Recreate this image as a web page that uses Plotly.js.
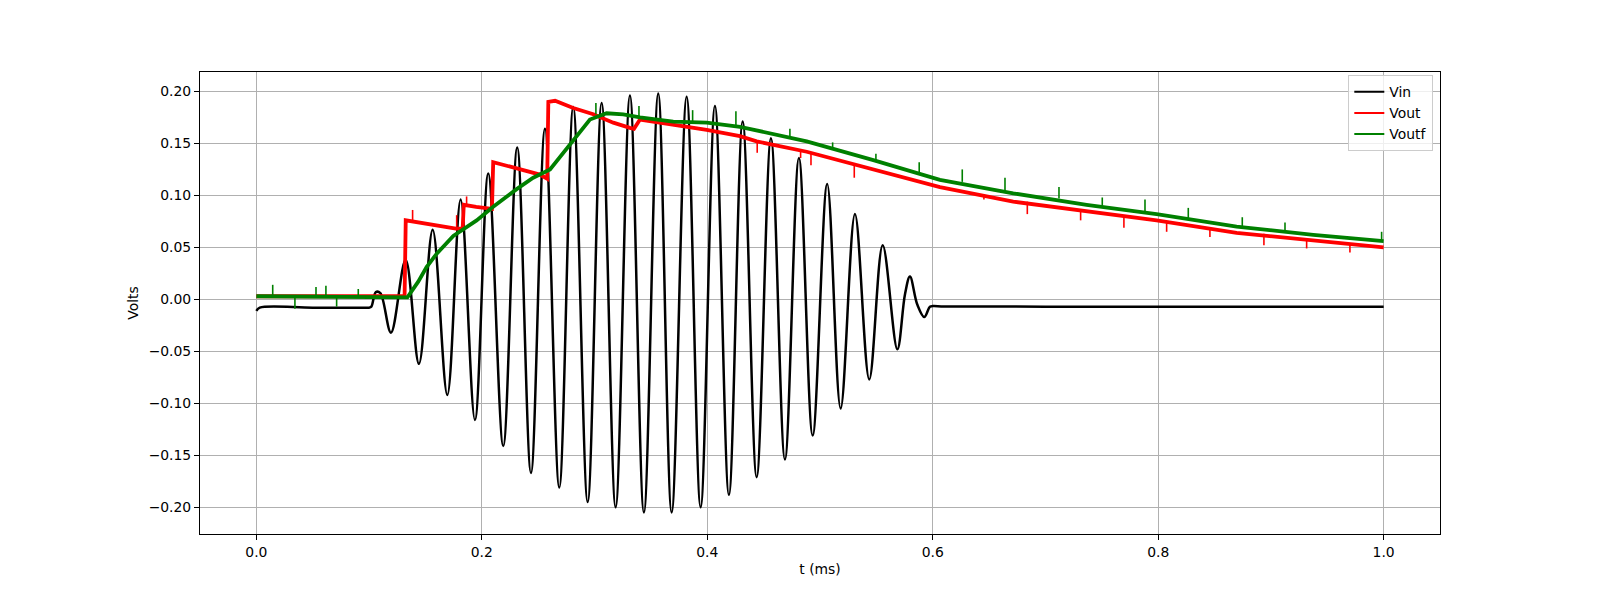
<!DOCTYPE html>
<html>
<head>
<meta charset="utf-8">
<script src="https://cdn.plot.ly/plotly-3.0.1.min.js"></script>
<style>html,body{margin:0;padding:0;background:#fff;}#chart{width:1600px;height:600px;}</style>
</head>
<body>
<div id="chart"></div>
<script>
// ---- Vin (tone burst), extrema and flat levels ----
var vinT = [0.000, 0.003, 0.050, 0.096, 0.100, 0.102, 0.106, 0.110, 0.1194, 0.1324, 0.1442, 0.1564, 0.1694, 0.1812, 0.1939, 0.2057, 0.2190, 0.2314, 0.2436, 0.2560, 0.2687, 0.2811, 0.2939, 0.3063, 0.3187, 0.3314, 0.3438, 0.3565, 0.3684, 0.3817, 0.3941, 0.4068, 0.4192, 0.4314, 0.4438, 0.4565, 0.4689, 0.4813, 0.4935, 0.5064, 0.5183, 0.5310, 0.5437, 0.5556, 0.5686, 0.5754, 0.5798, 0.5863, 0.5925, 0.5975, 0.6000, 0.6100, 0.7000, 0.8000, 0.9000, 0.9900, 1.0000];
var vinV = [-0.011, -0.008, -0.008, -0.008, -0.008, -0.007, 0.007, 0.006, -0.032, 0.038, -0.062, 0.067, -0.092, 0.096, -0.116, 0.121, -0.141, 0.146, -0.167, 0.164, -0.181, 0.185, -0.195, 0.189, -0.200, 0.196, -0.205, 0.198, -0.205, 0.195, -0.200, 0.186, -0.188, 0.171, -0.171, 0.155, -0.154, 0.136, -0.131, 0.111, -0.105, 0.082, -0.077, 0.052, -0.048, 0.005, 0.022, -0.005, -0.017, -0.007, -0.0065, -0.0068, -0.0070, -0.0072, -0.0072, -0.0072, -0.0072];

// ---- Vout (red) ----
var voutT = [0.000, 0.1315, 0.1325, 0.1450, 0.1600, 0.1770, 0.1830, 0.1840, 0.1950, 0.2080, 0.2090, 0.2101, 0.2309, 0.2515, 0.2580, 0.2590, 0.2650, 0.2811, 0.2989, 0.3166, 0.3314, 0.3350, 0.3403, 0.3698, 0.3995, 0.4290, 0.4438, 0.4882, 0.5473, 0.6064, 0.6714, 0.7365, 0.7986, 0.8696, 0.9376, 1.0000];
var voutV = [0.003, 0.003, 0.076, 0.074, 0.071, 0.068, 0.068, 0.091, 0.089, 0.087, 0.087, 0.132, 0.126, 0.120, 0.116, 0.190, 0.191, 0.184, 0.178, 0.170, 0.165, 0.164, 0.173, 0.168, 0.163, 0.157, 0.152, 0.142, 0.125, 0.108, 0.094, 0.085, 0.076, 0.064, 0.057, 0.050];

// ---- Voutf (green) ----
var voutfT = [0.000, 0.1340, 0.1436, 0.1510, 0.1600, 0.1747, 0.1954, 0.2101, 0.2309, 0.2456, 0.2605, 0.2693, 0.2811, 0.2959, 0.3107, 0.3255, 0.3403, 0.3698, 0.3995, 0.4290, 0.4882, 0.5473, 0.6064, 0.6714, 0.7365, 0.7986, 0.8696, 0.9376, 1.0000];
var voutfV = [0.003, 0.002, 0.017, 0.031, 0.044, 0.061, 0.076, 0.089, 0.106, 0.117, 0.125, 0.137, 0.152, 0.173, 0.179, 0.178, 0.175, 0.171, 0.170, 0.166, 0.152, 0.134, 0.115, 0.102, 0.091, 0.082, 0.070, 0.062, 0.056];

// ---- noise spikes (time, band value, spike tip) ----
var voutSpikeT    = [0.1386, 0.1777, 0.1865, 0.4443, 0.4828, 0.4920, 0.5304, 0.6454, 0.6839, 0.7312, 0.7696, 0.8075, 0.8459, 0.8938, 0.9317, 0.9701];
var voutSpikeBase = [0.075, 0.068, 0.091, 0.152, 0.144, 0.141, 0.131, 0.101, 0.094, 0.086, 0.081, 0.075, 0.069, 0.063, 0.058, 0.054];
var voutSpikeTip  = [0.086, 0.081, 0.099, 0.141, 0.136, 0.129, 0.117, 0.096, 0.082, 0.076, 0.069, 0.065, 0.060, 0.052, 0.049, 0.045];

var voutfSpikeT    = [0.0145, 0.0342, 0.0529, 0.0617, 0.0712, 0.0904, 0.3012, 0.3394, 0.3870, 0.4254, 0.4733, 0.5112, 0.5496, 0.5880, 0.6262, 0.6641, 0.7120, 0.7504, 0.7883, 0.8267, 0.8746, 0.9125, 0.9982];
var voutfSpikeBase = [0.003, 0.003, 0.003, 0.003, 0.003, 0.003, 0.178, 0.175, 0.171, 0.167, 0.155, 0.145, 0.133, 0.121, 0.113, 0.104, 0.097, 0.090, 0.085, 0.078, 0.070, 0.066, 0.056];
var voutfSpikeTip  = [0.014, -0.009, 0.012, 0.013, -0.007, 0.010, 0.189, 0.186, 0.182, 0.181, 0.164, 0.151, 0.140, 0.132, 0.125, 0.117, 0.108, 0.098, 0.096, 0.088, 0.079, 0.074, 0.065];

var seriesNames  = ['Vin', 'Vout', 'Voutf'];
var seriesColors = ['#000000', '#ff0000', '#008000'];

function segs(t, a, b) {
  var x = [], y = [];
  for (var i = 0; i < t.length; i++) {
    x.push(t[i], t[i], null);
    y.push(a[i], b[i], null);
  }
  return {x: x, y: y};
}
var rs = segs(voutSpikeT, voutSpikeBase, voutSpikeTip);
var gs = segs(voutfSpikeT, voutfSpikeBase, voutfSpikeTip);

var FONT = 'DejaVu Sans, sans-serif';
var traces = [
  {x: vinT, y: vinV, name: seriesNames[0], mode: 'lines', showlegend: false, line: {color: seriesColors[0], width: 2.5, shape: 'spline', smoothing: 1}},
  {x: voutT, y: voutV, name: seriesNames[1], mode: 'lines', showlegend: false, line: {color: seriesColors[1], width: 3.8}},
  {x: rs.x, y: rs.y, mode: 'lines', showlegend: false, hoverinfo: 'skip', line: {color: seriesColors[1], width: 1.6}},
  {x: voutfT, y: voutfV, name: seriesNames[2], mode: 'lines', showlegend: false, line: {color: seriesColors[2], width: 3.8}},
  {x: gs.x, y: gs.y, mode: 'lines', showlegend: false, hoverinfo: 'skip', line: {color: seriesColors[2], width: 1.6}}
];
// legend entries with thin line samples, as in the reference
for (var k = 0; k < seriesNames.length; k++) {
  traces.push({x: [null], y: [null], name: seriesNames[k], mode: 'lines', showlegend: true, line: {color: seriesColors[k], width: 2}});
}

var axisCommon = {
  showgrid: true, gridcolor: '#b0b0b0', gridwidth: 1,
  zeroline: false, showline: true, mirror: true, linecolor: '#000000', linewidth: 1,
  ticks: 'outside', ticklen: 5, tickwidth: 1, tickcolor: '#000000',
  tickfont: {family: FONT, size: 13.9, color: '#000000'}
};

var layout = {
  width: 1600, height: 600,
  paper_bgcolor: '#ffffff', plot_bgcolor: '#ffffff',
  margin: {l: 200, r: 160, t: 72, b: 66, pad: 0},
  font: {family: FONT, size: 13.9, color: '#000000'},
  showlegend: true,
  xaxis: Object.assign({}, axisCommon, {
    range: [-0.05, 1.05], tick0: 0, dtick: 0.2, tickformat: '.1f',
    title: {text: 't (ms)', font: {family: FONT, size: 13.9, color: '#000000'}, standoff: 5}
  }),
  yaxis: Object.assign({}, axisCommon, {
    range: [-0.2257, 0.2187], tick0: 0, dtick: 0.05, tickformat: '.2f',
    title: {text: 'Volts', font: {family: FONT, size: 13.9, color: '#000000'}, standoff: 6}
  }),
  legend: {
    x: 0.9946, xanchor: 'right', y: 0.9929, yanchor: 'top',
    bgcolor: 'rgba(255,255,255,0.8)', bordercolor: '#cccccc', borderwidth: 1,
    font: {family: FONT, size: 13.9, color: '#000000'}
  }
};

Plotly.newPlot('chart', traces, layout, {staticPlot: true, displayModeBar: false});
</script>
</body>
</html>
